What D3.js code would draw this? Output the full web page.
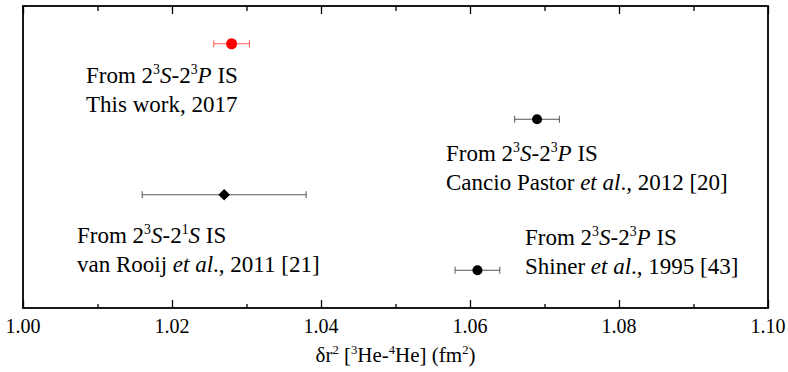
<!DOCTYPE html>
<html>
  <head>
    <meta charset="UTF-8" />
    <script src="https://d3js.org/d3.v7.min.js"></script>
  </head>
  <body style="margin:0">
    <svg id="chart" width="788" height="372"></svg>
    <script>
      // Data
      const names = ["This work", "Cancio Pastor", "van Rooij", "Shiner"];
      const values = [1.028, 1.069, 1.027, 1.061];
      const errors = [0.0024, 0.003, 0.011, 0.003];
      const rows = [4, 3, 2, 1];
      const markers = ["circle", "circle", "diamond", "circle"];
      const xTicks = [1.0, 1.02, 1.04, 1.06, 1.08, 1.1];
      const xMinor = [1.01, 1.03, 1.05, 1.07, 1.09];

      // label lines: arrays of [text, style] pieces; style: "n" normal, "i" italic, "s" superscript
      const labels = [
        [
          [["From 2", "n"], ["3", "s"], ["S", "i"], ["-2", "n"], ["3", "s"], ["P", "i"], [" IS", "n"]],
          [["This work, 2017", "n"]],
        ],
        [
          [["From 2", "n"], ["3", "s"], ["S", "i"], ["-2", "n"], ["3", "s"], ["P", "i"], [" IS", "n"]],
          [["Cancio Pastor ", "n"], ["et al", "i"], ["., 2012 [20]", "n"]],
        ],
        [
          [["From 2", "n"], ["3", "s"], ["S", "i"], ["-2", "n"], ["1", "s"], ["S", "i"], [" IS", "n"]],
          [["van Rooij ", "n"], ["et al", "i"], ["., 2011 [21]", "n"]],
        ],
        [
          [["From 2", "n"], ["3", "s"], ["S", "i"], ["-2", "n"], ["3", "s"], ["P", "i"], [" IS", "n"]],
          [["Shiner ", "n"], ["et al", "i"], ["., 1995 [43]", "n"]],
        ],
      ];
      // label anchor (pixels), first baseline
      const labelPos = [
        [86, 83],
        [446, 161],
        [77, 243],
        [525, 245],
      ];

      const serif = "Liberation Serif";

      const data = names.map((n, i) => ({
        name: n,
        value: values[i],
        err: errors[i],
        row: rows[i],
        marker: markers[i],
        color: i === 0 ? "#ff0000" : "#000000",
        barColor: i === 0 ? "#ff5a5a" : "#555555",
      }));

      const margin = { top: 6, right: 20, bottom: 64, left: 23 };
      const W = 788, H = 372;
      const width = W - margin.left - margin.right;
      const height = H - margin.top - margin.bottom;

      const root = d3.select("#chart");
      const svg = root.append("g")
        .attr("transform", `translate(${margin.left},${margin.top})`);

      const x = d3.scaleLinear().domain([1.0, 1.1]).range([margin.left, margin.left + width]);
      const y = d3.scaleLinear().domain([0.5, 4.5]).range([margin.top + height, margin.top]);
      const xi = x.copy().range([0, width]);

      // bottom axis, inward ticks (labels drawn separately)
      const bottomAxis = svg.append("g")
        .attr("transform", `translate(0,${height})`)
        .call(d3.axisBottom(xi).tickValues(xTicks).tickSize(-8).tickFormat(""));
      bottomAxis.select(".domain").remove();
      bottomAxis.selectAll("line").attr("stroke", "#000").attr("stroke-width", 1.3);

      const bottomMinor = svg.append("g")
        .attr("transform", `translate(0,${height})`)
        .call(d3.axisBottom(xi).tickValues(xMinor).tickSize(-4).tickFormat(""));
      bottomMinor.select(".domain").remove();
      bottomMinor.selectAll("line").attr("stroke", "#000").attr("stroke-width", 1.3);

      // top axis, inward ticks, no labels
      const topAxis = svg.append("g")
        .call(d3.axisTop(xi).tickValues(xTicks).tickSize(-8).tickFormat(""));
      topAxis.select(".domain").remove();
      topAxis.selectAll("line").attr("stroke", "#000").attr("stroke-width", 1.3);

      const topMinor = svg.append("g")
        .call(d3.axisTop(xi).tickValues(xMinor).tickSize(-5).tickFormat(""));
      topMinor.select(".domain").remove();
      topMinor.selectAll("line").attr("stroke", "#000").attr("stroke-width", 1.3);

      // frame
      svg.append("rect")
        .attr("x", 0)
        .attr("y", 0)
        .attr("width", width)
        .attr("height", height)
        .attr("fill", "none")
        .attr("stroke", "#000")
        .attr("stroke-width", 1.8);

      // tick labels
      root.selectAll(".tlabel")
        .data(xTicks)
        .join("text")
        .attr("class", "tlabel")
        .attr("x", (d) => x(d))
        .attr("y", margin.top + height + 25)
        .attr("text-anchor", "middle")
        .attr("font-size", 20)
        .style("font-family", serif)
        .text(d3.format(".2f"));

      // error bars
      const bars = root.selectAll(".ebar").data(data).join("g").attr("class", "ebar");
      bars.append("line")
        .attr("x1", (d) => x(d.value - d.err))
        .attr("x2", (d) => x(d.value + d.err))
        .attr("y1", (d) => y(d.row))
        .attr("y2", (d) => y(d.row))
        .attr("stroke", (d) => d.barColor)
        .attr("stroke-width", 1);
      [-1, 1].forEach((s) => {
        bars.append("line")
          .attr("x1", (d) => x(d.value + s * d.err))
          .attr("x2", (d) => x(d.value + s * d.err))
          .attr("y1", (d) => y(d.row) - 3.5)
          .attr("y2", (d) => y(d.row) + 3.5)
          .attr("stroke", (d) => d.barColor)
          .attr("stroke-width", 1);
      });

      // markers
      root.selectAll(".pt")
        .data(data)
        .join("path")
        .attr("class", "pt")
        .attr("transform", (d) => `translate(${x(d.value)},${y(d.row)})`)
        .attr("d", (d) =>
          d.marker === "diamond"
            ? d3.symbol(d3.symbolDiamond2, 85)()
            : d3.symbol(d3.symbolCircle, d.color === "#ff0000" ? 95 : 80)()
        )
        .attr("fill", (d) => d.color);

      // rich text helper, text placed directly on the root svg
      function addRich(px, py, pieces, size) {
        const t = root.append("text")
          .attr("x", px)
          .attr("y", py)
          .attr("font-size", size)
          .style("font-family", serif);
        let shifted = false;
        pieces.forEach(([str, style]) => {
          const sp = t.append("tspan").text(str);
          if (style === "s") {
            sp.attr("font-size", size * 0.6).attr("dy", -size * 0.38);
            shifted = true;
          } else {
            if (shifted) {
              sp.attr("dy", size * 0.38);
              shifted = false;
            }
            if (style === "i") sp.style("font-style", "italic");
          }
        });
        return t;
      }

      const fs = 23;
      labels.forEach((lines, i) => {
        lines.forEach((line, j) => {
          addRich(labelPos[i][0], labelPos[i][1] + j * 29, line, fs);
        });
      });

      // axis title
      addRich(margin.left + width / 2, margin.top + height + 54,
        [["δr", "n"], ["2", "s"], [" [", "n"], ["3", "s"], ["He-", "n"], ["4", "s"],
          ["He] (fm", "n"], ["2", "s"], [")", "n"]], 21)
        .attr("text-anchor", "middle");
    </script>
  </body>
</html>
